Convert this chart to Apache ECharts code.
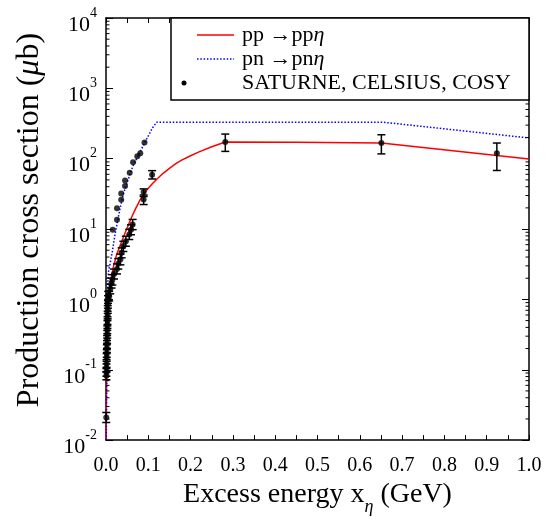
<!DOCTYPE html>
<html><head><meta charset="utf-8">
<script src="https://cdn.jsdelivr.net/npm/echarts@6/dist/echarts.min.js"></script>
<style>html,body{margin:0;padding:0;background:#fff}#c{width:549px;height:521px}</style>
</head><body><div id="c"></div>
<script>
// ---- data ----
const xTickLabels = ['0.0','0.1','0.2','0.3','0.4','0.5','0.6','0.7','0.8','0.9','1.0'];
const yTickExps = [-2, -1, 0, 1, 2, 3, 4];
const minorMults = [2, 3, 4, 5, 6, 7, 8, 9];

// pp -> pp eta (red solid)
const ppX = [0.0005, 0.001, 0.002, 0.003, 0.005, 0.008, 0.012, 0.018, 0.025, 0.035, 0.045, 0.06, 0.07, 0.08, 0.09, 0.1, 0.11, 0.12, 0.135, 0.15, 0.165, 0.18, 0.2, 0.22, 0.25, 0.282, 0.45, 0.651, 1.0];
const ppY = [0.01, 0.04, 0.15, 0.35, 0.8, 1.4, 2.0, 3.0, 4.3, 6.2, 8.8, 14.5, 19.5, 25.5, 32, 38, 44.5, 51, 62, 73, 85, 96, 110, 125, 148, 173, 172, 167, 99];

// pn -> pn eta (blue dotted)
const pnX = [0.0008, 0.0015, 0.0025, 0.0035, 0.006, 0.01, 0.015, 0.02, 0.025, 0.032, 0.04, 0.05, 0.063, 0.079, 0.096, 0.11, 0.12, 0.654, 1.0];
const pnY = [0.01, 0.1, 0.5, 1.5, 2.5, 3.3, 4.8, 7.5, 11, 18, 30, 46, 77, 120, 190, 275, 331, 331, 197];

// SATURNE, CELSIUS, COSY data with error bars
const errX  = [0.0006, 0.0009, 0.0010, 0.0011, 0.0013, 0.0016, 0.0018, 0.0021, 0.0023, 0.0026, 0.0029, 0.0031, 0.0034, 0.0036, 0.0039, 0.0042, 0.0045, 0.0048, 0.0052, 0.0075, 0.010, 0.013, 0.015, 0.019, 0.026, 0.029, 0.034, 0.037, 0.041, 0.047, 0.055, 0.059, 0.063, 0.089, 0.089, 0.109, 0.282, 0.651, 0.924];
const errY  = [0.021, 0.082, 0.092, 0.107, 0.123, 0.15, 0.17, 0.2, 0.23, 0.27, 0.32, 0.37, 0.44, 0.5, 0.6, 0.72, 0.85, 1.0, 1.15, 1.11, 1.4, 1.7, 1.9, 2.3, 2.7, 3.2, 3.7, 4.6, 5.7, 6.7, 8.4, 9.8, 11.6, 26.2, 33.7, 59.3, 173, 167, 120];
const errLo = [0.0178, 0.072, 0.081, 0.094, 0.108, 0.132, 0.15, 0.176, 0.202, 0.238, 0.282, 0.326, 0.387, 0.44, 0.53, 0.634, 0.75, 0.88, 1.0, 0.95, 1.2, 1.45, 1.6, 1.95, 2.3, 2.7, 3.1, 3.9, 4.8, 5.7, 7.1, 8.3, 9.8, 22.3, 29, 51.5, 127, 117, 68];
const errHi = [0.0247, 0.093, 0.104, 0.121, 0.139, 0.17, 0.193, 0.227, 0.26, 0.306, 0.362, 0.42, 0.5, 0.566, 0.68, 0.816, 0.96, 1.13, 1.3, 1.3, 1.65, 2.0, 2.25, 2.7, 3.2, 3.8, 4.4, 5.4, 6.7, 7.9, 9.9, 11.5, 13.7, 30.5, 37.2, 67.6, 224, 219, 167];

// data dots without error bars
const dotX = [0.016, 0.026, 0.026, 0.036, 0.036, 0.045, 0.045, 0.056, 0.064, 0.074, 0.081, 0.091];
const dotY = [9.8, 13.6, 19.7, 26, 32, 41, 49, 63, 89, 108, 120, 170];

// ---- chart ----
const FONT = 'Liberation Serif';
const chart = echarts.init(document.getElementById('c'));

const minorVals = [];
for (let e = -2; e < 4; e++) for (const m of minorMults) minorVals.push([0, m * Math.pow(10, e)]);

const supRich = {
  b: {fontFamily: FONT, fontSize: 22, color: '#000', lineHeight: 30, verticalAlign: 'bottom'},
  s: {fontFamily: FONT, fontSize: 14, color: '#000', lineHeight: 30, verticalAlign: 'top'}
};

const xBase = {
  type: 'value', min: 0, max: 1, interval: 0.1,
  axisLine: {show: true, onZero: false, lineStyle: {color: '#000', width: 1.5}},
  axisTick: {show: true, inside: true, length: 5, lineStyle: {color: '#000', width: 1}},
  minorTick: {show: true, splitNumber: 2, length: 5, lineStyle: {color: '#000', width: 1}},
  splitLine: {show: false}, minorSplitLine: {show: false}
};
const yBase = {
  type: 'log', logBase: 10, min: 0.01, max: 10000, splitNumber: 6,
  axisLine: {show: true, onZero: false, lineStyle: {color: '#000', width: 1.5}},
  axisTick: {show: true, inside: true, length: 7, lineStyle: {color: '#000', width: 1}},
  splitLine: {show: false}
};

chart.setOption({
  backgroundColor: '#fff',
  animation: false,
  grid: {left: 106, right: 20, top: 18, bottom: 80, containLabel: false},
  xAxis: [
    Object.assign({}, xBase, {
      position: 'bottom',
      axisLabel: {
        show: true, margin: 16, fontFamily: FONT, fontSize: 20, color: '#000',
        formatter: v => xTickLabels[Math.round(v * 10)]
      },
      name: 'Excess energy x{s|η} (GeV)',
      nameLocation: 'middle', nameGap: 31,
      nameTextStyle: {
        fontFamily: FONT, fontSize: 28, color: '#000',
        rich: {s: {fontFamily: FONT, fontSize: 18, fontStyle: 'italic', color: '#000', verticalAlign: 'bottom', lineHeight: 42}}
      }
    }),
    Object.assign({}, xBase, {position: 'top', axisLabel: {show: false}})
  ],
  yAxis: [
    Object.assign({}, yBase, {
      position: 'left',
      axisLabel: {
        show: true, margin: 9, padding: [6, 0, 0, 0],
        formatter: v => {
          const e = Math.round(Math.log10(v));
          const t = yTickExps.indexOf(e) >= 0 ? String(e) : '';
          return '{b|10}{s|' + t + '}';
        },
        rich: supRich
      },
      name: '{n|Production cross section (}{i|μ}{n|b)}',
      nameLocation: 'middle', nameRotate: 90, nameGap: 60,
      nameTextStyle: {
        padding: [0, 0, 0, 18],
        rich: {
          n: {fontFamily: FONT, fontSize: 32, color: '#000'},
          i: {fontFamily: FONT, fontSize: 32, fontStyle: 'italic', color: '#000'}
        }
      }
    }),
    Object.assign({}, yBase, {position: 'right', axisLabel: {show: false}})
  ],
  series: [
    {
      name: 'minor ticks', type: 'custom', xAxisIndex: 0, yAxisIndex: 0, silent: true, z: 10,
      data: minorVals, encode: {x: 0, y: 1}, clip: false,
      renderItem: (params, api) => {
        const v = api.value(1);
        const pL = api.coord([0, v]);
        const pR = api.coord([1, v]);
        const st = {stroke: '#000', lineWidth: 1};
        return {type: 'group', children: [
          {type: 'line', shape: {x1: pL[0], y1: pL[1], x2: pL[0] + 3.5, y2: pL[1]}, style: st},
          {type: 'line', shape: {x1: pR[0], y1: pR[1], x2: pR[0] - 3.5, y2: pR[1]}, style: st}
        ]};
      }
    },
    {
      name: 'pp →ppη', type: 'line', xAxisIndex: 0, yAxisIndex: 0,
      data: ppX.map((x, i) => [x, ppY[i]]),
      showSymbol: false, symbol: 'none', smooth: false,
      lineStyle: {color: '#ff0000', width: 1.5}, z: 3
    },
    {
      name: 'pn →pnη', type: 'line', xAxisIndex: 0, yAxisIndex: 0,
      data: pnX.map((x, i) => [x, pnY[i]]),
      showSymbol: false, symbol: 'none', smooth: false,
      lineStyle: {color: '#0000ff', width: 1.5, type: [1.5, 1.8]}, z: 3
    },
    {
      name: 'error bars', type: 'custom', xAxisIndex: 0, yAxisIndex: 0, z: 4,
      data: errX.map((x, i) => [x, errLo[i], errHi[i]]),
      encode: {x: 0, y: [1, 2]},
      renderItem: (params, api) => {
        const x = api.value(0);
        const p1 = api.coord([x, api.value(1)]);
        const p2 = api.coord([x, api.value(2)]);
        const w = 4;
        const st = {stroke: '#000', lineWidth: 1.5};
        return {type: 'group', children: [
          {type: 'line', shape: {x1: p1[0], y1: p1[1], x2: p2[0], y2: p2[1]}, style: st},
          {type: 'line', shape: {x1: p1[0] - w, y1: p1[1], x2: p1[0] + w, y2: p1[1]}, style: st},
          {type: 'line', shape: {x1: p2[0] - w, y1: p2[1], x2: p2[0] + w, y2: p2[1]}, style: st}
        ]};
      }
    },
    {
      name: 'SATURNE, CELSIUS, COSY', type: 'scatter', xAxisIndex: 0, yAxisIndex: 0, z: 5,
      data: errX.map((x, i) => [x, errY[i]]).concat(dotX.map((x, i) => [x, dotY[i]])),
      symbol: 'circle', symbolSize: 6,
      itemStyle: {color: '#000'}
    }
  ],
  graphic: [
    {type: 'rect', z: 100, shape: {x: 171, y: 18, width: 358, height: 82},
     style: {fill: '#fff', stroke: '#000', lineWidth: 1.5}},
    {type: 'line', z: 101, shape: {x1: 197, y1: 35, x2: 234, y2: 35}, style: {stroke: '#ff0000', lineWidth: 1.5}},
    {type: 'line', z: 101, shape: {x1: 197, y1: 59, x2: 234, y2: 59}, style: {stroke: '#0000ff', lineWidth: 1.5, lineDash: [1.5, 1.8]}},
    {type: 'circle', z: 101, shape: {cx: 184, cy: 83, r: 2.5}, style: {fill: '#000'}},
    {type: 'text', z: 101, x: 242, y: 35, style: {
      text: '{n|pp →pp}{i|η}', verticalAlign: 'middle',
      rich: {n: {fontFamily: FONT, fontSize: 22, color: '#000'}, i: {fontFamily: FONT, fontSize: 22, fontStyle: 'italic', color: '#000'}}}},
    {type: 'text', z: 101, x: 242, y: 59, style: {
      text: '{n|pn →pn}{i|η}', verticalAlign: 'middle',
      rich: {n: {fontFamily: FONT, fontSize: 22, color: '#000'}, i: {fontFamily: FONT, fontSize: 22, fontStyle: 'italic', color: '#000'}}}},
    {type: 'text', z: 101, x: 242, y: 83, style: {
      text: 'SATURNE, CELSIUS, COSY', verticalAlign: 'middle',
      fontFamily: FONT, fontSize: 22, fill: '#000'}}
  ]
});
</script>
</body></html>
